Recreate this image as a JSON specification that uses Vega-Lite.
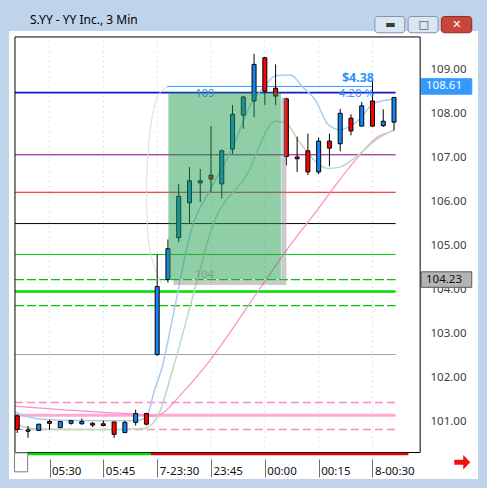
{
  "$schema": "https://vega.github.io/schema/vega-lite/v6.json",
  "width": 469,
  "height": 448,
  "autosize": {"type": "none"},
  "padding": {"left": 9, "top": 31, "right": 9, "bottom": 9},
  "background": "#bfd4eb",
  "title": {
    "text": "S.YY - YY Inc., 3 Min",
    "anchor": "start",
    "frame": "group",
    "dx": 21,
    "offset": -20.5,
    "baseline": "alphabetic",
    "font": "Noto Sans",
    "fontSize": 12,
    "fontWeight": "normal",
    "color": "#000000"
  },
  "config": {
    "view": {"fill": "#ffffff", "stroke": null},
    "text": {"font": "Noto Sans"}
  },
  "resolve": {"scale": {"color": "independent", "fill": "independent", "stroke": "independent"}},
  "datasets": {
    "candles": [
      {"i": 0, "t": "05:21", "open": 101.14, "high": 101.17, "low": 100.75, "close": 100.83},
      {"i": 1, "t": "05:24", "open": 100.79, "high": 100.91, "low": 100.64, "close": 100.82},
      {"i": 2, "t": "05:27", "open": 100.81, "high": 100.96, "low": 100.8, "close": 100.95},
      {"i": 3, "t": "05:30", "open": 101.01, "high": 101.05, "low": 100.82, "close": 100.97},
      {"i": 4, "t": "05:33", "open": 100.87, "high": 101.01, "low": 100.87, "close": 101.01},
      {"i": 5, "t": "05:36", "open": 100.97, "high": 101.03, "low": 100.94, "close": 101.03},
      {"i": 6, "t": "05:39", "open": 100.96, "high": 101.08, "low": 100.94, "close": 101.01},
      {"i": 7, "t": "05:42", "open": 100.97, "high": 101.0, "low": 100.88, "close": 100.93},
      {"i": 8, "t": "05:45", "open": 100.96, "high": 101.03, "low": 100.9, "close": 100.92},
      {"i": 9, "t": "05:48", "open": 101.0, "high": 101.0, "low": 100.64, "close": 100.72},
      {"i": 10, "t": "05:51", "open": 100.76, "high": 101.03, "low": 100.76, "close": 100.99},
      {"i": 11, "t": "05:54", "open": 100.99, "high": 101.28, "low": 100.92, "close": 101.19},
      {"i": 12, "t": "05:57", "open": 101.19, "high": 101.21, "low": 100.92, "close": 100.95},
      {"i": 13, "t": "23:30", "open": 102.53, "high": 104.8, "low": 102.5, "close": 104.07},
      {"i": 14, "t": "23:33", "open": 104.23, "high": 105.14, "low": 104.16, "close": 104.93},
      {"i": 15, "t": "23:36", "open": 105.18, "high": 106.4, "low": 105.08, "close": 106.12},
      {"i": 16, "t": "23:39", "open": 105.97, "high": 106.78, "low": 105.5, "close": 106.47},
      {"i": 17, "t": "23:42", "open": 106.42, "high": 106.74, "low": 105.99, "close": 106.47},
      {"i": 18, "t": "23:45", "open": 106.6, "high": 107.71, "low": 106.21, "close": 106.51},
      {"i": 19, "t": "23:48", "open": 106.4, "high": 107.18, "low": 106.07, "close": 107.15},
      {"i": 20, "t": "23:51", "open": 107.19, "high": 108.19, "low": 107.08, "close": 107.98},
      {"i": 21, "t": "23:54", "open": 107.96, "high": 108.4, "low": 107.65, "close": 108.37},
      {"i": 22, "t": "23:57", "open": 108.28, "high": 109.35, "low": 107.91, "close": 109.11},
      {"i": 23, "t": "00:00", "open": 109.26, "high": 109.28, "low": 108.19, "close": 108.5},
      {"i": 24, "t": "00:03", "open": 108.57, "high": 109.11, "low": 108.19, "close": 108.39},
      {"i": 25, "t": "00:06", "open": 108.33, "high": 108.35, "low": 106.82, "close": 107.02},
      {"i": 26, "t": "00:09", "open": 107.01, "high": 107.47, "low": 106.67, "close": 106.97},
      {"i": 27, "t": "00:12", "open": 107.15, "high": 107.54, "low": 106.6, "close": 106.67},
      {"i": 28, "t": "00:15", "open": 106.67, "high": 107.45, "low": 106.62, "close": 107.37},
      {"i": 29, "t": "00:18", "open": 107.37, "high": 107.54, "low": 106.8, "close": 107.21},
      {"i": 30, "t": "00:21", "open": 107.31, "high": 108.1, "low": 107.14, "close": 108.0},
      {"i": 31, "t": "00:24", "open": 107.89, "high": 107.98, "low": 107.5, "close": 107.6},
      {"i": 32, "t": "00:27", "open": 107.71, "high": 108.26, "low": 107.71, "close": 108.17},
      {"i": 33, "t": "00:30", "open": 108.28, "high": 108.8, "low": 107.7, "close": 107.71},
      {"i": 34, "t": "00:33", "open": 107.72, "high": 108.09, "low": 107.69, "close": 107.82},
      {"i": 35, "t": "00:36", "open": 107.8, "high": 108.36, "low": 107.61, "close": 108.36}
    ],
    "sessions": [
      {"i": 3, "t": "05:30"}, {"i": 8, "t": "05:45"}, {"i": 13, "t": "7-23:30"},
      {"i": 18, "t": "23:45"}, {"i": 23, "t": "00:00"}, {"i": 28, "t": "00:15"}, {"i": 33, "t": "8-00:30"}
    ],
    "levels": [
      {"name": "r3", "price": 108.47},
      {"name": "r2", "price": 107.06},
      {"name": "r1", "price": 106.21},
      {"name": "pivot", "price": 105.5},
      {"name": "s1", "price": 104.8},
      {"name": "entry", "price": 104.23},
      {"name": "s2", "price": 103.96},
      {"name": "s3", "price": 103.64},
      {"name": "s4", "price": 102.53},
      {"name": "b1", "price": 101.44},
      {"name": "b2", "price": 101.15},
      {"name": "b3", "price": 100.83}
    ],
    "averages": [
      {"series": "fast", "i": -0.2, "v": 101.22},
      {"series": "fast", "i": 1, "v": 101.12},
      {"series": "fast", "i": 2.3, "v": 101.06},
      {"series": "fast", "i": 4, "v": 101.04},
      {"series": "fast", "i": 8, "v": 101.03},
      {"series": "fast", "i": 10.9, "v": 101.03},
      {"series": "fast", "i": 12, "v": 101.1},
      {"series": "fast", "i": 12.7, "v": 101.68},
      {"series": "fast", "i": 13.5, "v": 102.28},
      {"series": "fast", "i": 14.5, "v": 103.44},
      {"series": "fast", "i": 16.15, "v": 105.34},
      {"series": "fast", "i": 18, "v": 106.3},
      {"series": "fast", "i": 19.95, "v": 107.19},
      {"series": "fast", "i": 21.6, "v": 108.16},
      {"series": "fast", "i": 23, "v": 108.62},
      {"series": "fast", "i": 24, "v": 108.85},
      {"series": "fast", "i": 25.4, "v": 108.87},
      {"series": "fast", "i": 26.5, "v": 108.6},
      {"series": "fast", "i": 27.7, "v": 108.3},
      {"series": "fast", "i": 28.9, "v": 107.74},
      {"series": "fast", "i": 29.95, "v": 107.63},
      {"series": "fast", "i": 31.6, "v": 107.82},
      {"series": "fast", "i": 33.1, "v": 108.22},
      {"series": "fast", "i": 35.1, "v": 108.33},
      {"series": "medium", "i": -0.2, "v": 100.95},
      {"series": "medium", "i": 1.8, "v": 100.84},
      {"series": "medium", "i": 4, "v": 100.83},
      {"series": "medium", "i": 8.4, "v": 100.83},
      {"series": "medium", "i": 11.7, "v": 100.85},
      {"series": "medium", "i": 13, "v": 101.1},
      {"series": "medium", "i": 14.5, "v": 102.24},
      {"series": "medium", "i": 16.45, "v": 103.97},
      {"series": "medium", "i": 18.1, "v": 105.41},
      {"series": "medium", "i": 21.3, "v": 106.6},
      {"series": "medium", "i": 24.0, "v": 107.82},
      {"series": "medium", "i": 24.95, "v": 107.78},
      {"series": "medium", "i": 26.15, "v": 107.37},
      {"series": "medium", "i": 28.9, "v": 106.75},
      {"series": "medium", "i": 29.95, "v": 106.78},
      {"series": "medium", "i": 31.6, "v": 107.04},
      {"series": "medium", "i": 33.4, "v": 107.41},
      {"series": "medium", "i": 34.95, "v": 107.62},
      {"series": "slow", "i": -0.2, "v": 101.36},
      {"series": "slow", "i": 4, "v": 101.28},
      {"series": "slow", "i": 8, "v": 101.22},
      {"series": "slow", "i": 11.6, "v": 101.16},
      {"series": "slow", "i": 12.6, "v": 101.13},
      {"series": "slow", "i": 13.5, "v": 101.2},
      {"series": "slow", "i": 15, "v": 101.57},
      {"series": "slow", "i": 17.4, "v": 102.24},
      {"series": "slow", "i": 22.5, "v": 104.01},
      {"series": "slow", "i": 25.2, "v": 104.96},
      {"series": "slow", "i": 27.97, "v": 105.84},
      {"series": "slow", "i": 29.95, "v": 106.49},
      {"series": "slow", "i": 31.9, "v": 107.08},
      {"series": "slow", "i": 33.4, "v": 107.45},
      {"series": "slow", "i": 34.95, "v": 107.6}
    ],
    "sketch": [
      {"k": 0, "i": 13.97, "v": 108.6},
      {"k": 1, "i": 13.06, "v": 108.4},
      {"k": 2, "i": 12.52, "v": 107.89},
      {"k": 3, "i": 12.15, "v": 107.12},
      {"k": 4, "i": 12.02, "v": 106.23},
      {"k": 5, "i": 12.15, "v": 105.23},
      {"k": 6, "i": 12.6, "v": 104.63},
      {"k": 7, "i": 13.43, "v": 104.12}
    ],
    "zone": [
      {"start": 14.04, "end": 24.49, "low": 104.23, "high": 108.47, "top": "109", "bottom": "104"}
    ],
    "measure": [
      {"start": 13.9, "end": 33.05, "from": 104.23, "to": 108.61, "change": "$4.38", "pct": "4.20 %"}
    ],
    "quotes": [
      {"kind": "last", "price": 108.61},
      {"kind": "entry", "price": 104.23}
    ],
    "tape": [
      {"state": "pre", "start": 0.97, "end": 12.43},
      {"state": "live", "start": 12.43, "end": 36.34}
    ],
    "window": [
      {"button": "minimize", "left": 33.22, "right": 36.0, "glyph": "▬"},
      {"button": "maximize", "left": 36.31, "right": 39.09, "glyph": "□"},
      {"button": "close", "left": 39.4, "right": 42.22, "glyph": "✕"}
    ]
  },
  "layer": [
    {
      "data": {"name": "sessions"},
      "mark": {"type": "rule", "color": "#c6c6c6", "strokeWidth": 1, "strokeDash": [1, 4]},
      "encoding": {
        "x": {"field": "i", "type": "quantitative", "scale": {"domain": [-0.3, 42.336], "nice": false, "zero": false}},
        "y": {"datum": 100.31, "type": "quantitative", "scale": {"domain": [99.8204, 109.7539], "nice": false, "zero": false}},
        "y2": {"datum": 109.73}
      }
    },
    {
      "data": {"name": "levels"},
      "transform": [{"filter": {"field": "name", "oneOf": ["r2", "r1", "pivot", "s1", "s4"]}}],
      "mark": {"type": "rule", "strokeWidth": 1},
      "encoding": {
        "y": {"field": "price", "type": "quantitative", "scale": {"domain": [99.8204, 109.7539], "nice": false, "zero": false}},
        "x": {"datum": -0.21, "type": "quantitative", "scale": {"domain": [-0.3, 42.336], "nice": false, "zero": false}},
        "x2": {"datum": 35.15},
        "color": {"field": "name", "type": "nominal", "legend": null,
          "scale": {"domain": ["r2", "r1", "pivot", "s1", "s4"],
                    "range": ["#800080", "#e01010", "#000000", "#00cc00", "#a0a0a0"]}}
      }
    },
    {
      "data": {"name": "levels"},
      "transform": [{"filter": {"field": "name", "oneOf": ["r3"]}}],
      "mark": {"type": "rule", "strokeWidth": 1.6, "color": "#1818c8"},
      "encoding": {
        "y": {"field": "price", "type": "quantitative", "scale": {"domain": [99.8204, 109.7539], "nice": false, "zero": false}},
        "x": {"datum": -0.21, "type": "quantitative", "scale": {"domain": [-0.3, 42.336], "nice": false, "zero": false}},
        "x2": {"datum": 35.15}
      }
    },
    {
      "data": {"name": "levels"},
      "transform": [{"filter": {"field": "name", "oneOf": ["s2"]}}],
      "mark": {"type": "rule", "strokeWidth": 2.5, "color": "#00dd00"},
      "encoding": {
        "y": {"field": "price", "type": "quantitative", "scale": {"domain": [99.8204, 109.7539], "nice": false, "zero": false}},
        "x": {"datum": -0.21, "type": "quantitative", "scale": {"domain": [-0.3, 42.336], "nice": false, "zero": false}},
        "x2": {"datum": 35.15}
      }
    },
    {
      "data": {"name": "levels"},
      "transform": [{"filter": {"field": "name", "oneOf": ["b2"]}}],
      "mark": {"type": "rule", "strokeWidth": 3, "color": "#ffa8d2"},
      "encoding": {
        "y": {"field": "price", "type": "quantitative", "scale": {"domain": [99.8204, 109.7539], "nice": false, "zero": false}},
        "x": {"datum": -0.21, "type": "quantitative", "scale": {"domain": [-0.3, 42.336], "nice": false, "zero": false}},
        "x2": {"datum": 35.15}
      }
    },
    {
      "data": {"name": "levels"},
      "transform": [{"filter": {"field": "name", "oneOf": ["entry", "s3"]}}],
      "mark": {"type": "rule", "strokeWidth": 1.3, "strokeDash": [9, 3], "color": "#00c800"},
      "encoding": {
        "y": {"field": "price", "type": "quantitative", "scale": {"domain": [99.8204, 109.7539], "nice": false, "zero": false}},
        "x": {"datum": -0.21, "type": "quantitative", "scale": {"domain": [-0.3, 42.336], "nice": false, "zero": false}},
        "x2": {"datum": 35.15}
      }
    },
    {
      "data": {"name": "levels"},
      "transform": [{"filter": {"field": "name", "oneOf": ["b1", "b3"]}}],
      "mark": {"type": "rule", "strokeWidth": 1.5, "strokeDash": [8, 4], "color": "#ff8cc0"},
      "encoding": {
        "y": {"field": "price", "type": "quantitative", "scale": {"domain": [99.8204, 109.7539], "nice": false, "zero": false}},
        "x": {"datum": -0.21, "type": "quantitative", "scale": {"domain": [-0.3, 42.336], "nice": false, "zero": false}},
        "x2": {"datum": 35.15}
      }
    },
    {
      "data": {"name": "measure"},
      "mark": {"type": "rule", "color": "#2f9dff", "strokeWidth": 1},
      "encoding": {
        "y": {"field": "to", "type": "quantitative", "scale": {"domain": [99.8204, 109.7539], "nice": false, "zero": false}},
        "x": {"field": "start", "type": "quantitative", "scale": {"domain": [-0.3, 42.336], "nice": false, "zero": false}},
        "x2": {"field": "end"}
      }
    },
    {
      "data": {"name": "averages"},
      "transform": [{"filter": "datum.series === 'slow'"}],
      "mark": {"type": "line", "color": "#ff8cc8", "strokeWidth": 1.2, "interpolate": "monotone"},
      "encoding": {
        "x": {"field": "i", "type": "quantitative", "scale": {"domain": [-0.3, 42.336], "nice": false, "zero": false}},
        "y": {"field": "v", "type": "quantitative", "scale": {"domain": [99.8204, 109.7539], "nice": false, "zero": false}}
      }
    },
    {
      "data": {"name": "averages"},
      "transform": [{"filter": "datum.series === 'medium'"}],
      "mark": {"type": "line", "color": "#b9dcb9", "strokeWidth": 1.5, "interpolate": "monotone"},
      "encoding": {
        "x": {"field": "i", "type": "quantitative", "scale": {"domain": [-0.3, 42.336], "nice": false, "zero": false}},
        "y": {"field": "v", "type": "quantitative", "scale": {"domain": [99.8204, 109.7539], "nice": false, "zero": false}}
      }
    },
    {
      "data": {"name": "averages"},
      "transform": [{"filter": "datum.series === 'fast'"}],
      "mark": {"type": "line", "color": "#a8cbef", "strokeWidth": 1.5, "interpolate": "monotone"},
      "encoding": {
        "x": {"field": "i", "type": "quantitative", "scale": {"domain": [-0.3, 42.336], "nice": false, "zero": false}},
        "y": {"field": "v", "type": "quantitative", "scale": {"domain": [99.8204, 109.7539], "nice": false, "zero": false}}
      }
    },
    {
      "data": {"name": "sketch"},
      "mark": {"type": "line", "color": "#dcdcdc", "strokeWidth": 1, "interpolate": "cardinal"},
      "encoding": {
        "x": {"field": "i", "type": "quantitative", "scale": {"domain": [-0.3, 42.336], "nice": false, "zero": false}},
        "y": {"field": "v", "type": "quantitative", "scale": {"domain": [99.8204, 109.7539], "nice": false, "zero": false}},
        "order": {"field": "k", "type": "quantitative"}
      }
    },
    {
      "data": {"name": "candles"},
      "mark": {"type": "rule", "color": "#000000", "strokeWidth": 1},
      "encoding": {
        "x": {
          "field": "i", "type": "quantitative",
          "scale": {"domain": [-0.3, 42.336], "nice": false, "zero": false},
          "axis": {
            "orient": "bottom", "offset": -20, "title": null, "grid": false, "domain": false,
            "values": [3, 8, 13, 18, 23, 28, 33],
            "labelExpr": "['05:30','05:45','7-23:30','23:45','00:00','00:15','8-00:30'][(datum.value - 3) / 5]",
            "ticks": true, "tickSize": 18, "tickColor": "#707070", "tickWidth": 1,
            "labelAlign": "left", "labelBaseline": "top", "labelPadding": -12, "labelOffset": 2,
            "labelFont": "Noto Sans", "labelFontSize": 11.5, "labelColor": "#111111",
            "labelFlush": false, "labelOverlap": false
          }
        },
        "y": {
          "field": "low", "type": "quantitative",
          "scale": {"domain": [99.8204, 109.7539], "nice": false, "zero": false},
          "axis": {
            "orient": "right", "offset": -54, "title": null, "grid": false, "domain": false,
            "values": [101, 102, 103, 104, 105, 106, 107, 108, 109], "format": ".2f",
            "ticks": false, "tickSize": 0, "labelPadding": 6,
            "labelFont": "Noto Sans", "labelFontSize": 11.5, "labelColor": "#404040",
            "labelFlush": false, "labelOverlap": false
          }
        },
        "y2": {"field": "high"}
      }
    },
    {
      "data": {"name": "candles"},
      "mark": {"type": "bar", "size": 4, "stroke": "#000000", "strokeWidth": 1},
      "encoding": {
        "x": {"field": "i", "type": "quantitative", "scale": {"domain": [-0.3, 42.336], "nice": false, "zero": false}},
        "y": {"field": "open", "type": "quantitative", "scale": {"domain": [99.8204, 109.7539], "nice": false, "zero": false}},
        "y2": {"field": "close"},
        "color": {"condition": {"test": "datum.close >= datum.open", "value": "#1784f5"}, "value": "#ff0000"}
      }
    },
    {
      "data": {"name": "zone"},
      "mark": {"type": "rule", "color": "#8a8a8a", "opacity": 0.45, "strokeWidth": 5, "xOffset": 3, "y2Offset": 5},
      "encoding": {
        "x": {"field": "end", "type": "quantitative", "scale": {"domain": [-0.3, 42.336], "nice": false, "zero": false}},
        "y": {"field": "low", "type": "quantitative", "scale": {"domain": [99.8204, 109.7539], "nice": false, "zero": false}},
        "y2": {"field": "high"}
      }
    },
    {
      "data": {"name": "zone"},
      "mark": {"type": "rule", "color": "#8a8a8a", "opacity": 0.45, "strokeWidth": 5, "xOffset": 5, "x2Offset": 5.5, "yOffset": 3},
      "encoding": {
        "y": {"field": "low", "type": "quantitative", "scale": {"domain": [99.8204, 109.7539], "nice": false, "zero": false}},
        "x": {"field": "start", "type": "quantitative", "scale": {"domain": [-0.3, 42.336], "nice": false, "zero": false}},
        "x2": {"field": "end"}
      }
    },
    {
      "data": {"name": "zone"},
      "mark": {"type": "rect", "fill": "#1f9e50", "fillOpacity": 0.5},
      "encoding": {
        "x": {"field": "start", "type": "quantitative", "scale": {"domain": [-0.3, 42.336], "nice": false, "zero": false}},
        "x2": {"field": "end"},
        "y": {"field": "low", "type": "quantitative", "scale": {"domain": [99.8204, 109.7539], "nice": false, "zero": false}},
        "y2": {"field": "high"}
      }
    },
    {
      "data": {"name": "zone"},
      "mark": {"type": "text", "align": "left", "baseline": "middle", "dx": 27, "dy": 1, "fontSize": 11, "color": "#3a86c8"},
      "encoding": {
        "x": {"field": "start", "type": "quantitative", "scale": {"domain": [-0.3, 42.336], "nice": false, "zero": false}},
        "y": {"field": "high", "type": "quantitative", "scale": {"domain": [99.8204, 109.7539], "nice": false, "zero": false}},
        "text": {"field": "top"}
      }
    },
    {
      "data": {"name": "zone"},
      "mark": {"type": "text", "align": "left", "baseline": "middle", "dx": 26.5, "dy": -5, "fontSize": 11, "color": "#8a9c90"},
      "encoding": {
        "x": {"field": "start", "type": "quantitative", "scale": {"domain": [-0.3, 42.336], "nice": false, "zero": false}},
        "y": {"field": "low", "type": "quantitative", "scale": {"domain": [99.8204, 109.7539], "nice": false, "zero": false}},
        "text": {"field": "bottom"}
      }
    },
    {
      "data": {"name": "measure"},
      "mark": {"type": "text", "align": "right", "baseline": "alphabetic", "dx": 1, "dy": -4, "fontSize": 12.5, "fontWeight": "bold", "color": "#2f95f5"},
      "encoding": {
        "x": {"field": "end", "type": "quantitative", "scale": {"domain": [-0.3, 42.336], "nice": false, "zero": false}},
        "y": {"field": "to", "type": "quantitative", "scale": {"domain": [99.8204, 109.7539], "nice": false, "zero": false}},
        "text": {"field": "change"}
      }
    },
    {
      "data": {"name": "measure"},
      "mark": {"type": "text", "align": "right", "baseline": "alphabetic", "dx": 1, "dy": 10.5, "fontSize": 11.5, "color": "#3399ff"},
      "encoding": {
        "x": {"field": "end", "type": "quantitative", "scale": {"domain": [-0.3, 42.336], "nice": false, "zero": false}},
        "y": {"field": "to", "type": "quantitative", "scale": {"domain": [99.8204, 109.7539], "nice": false, "zero": false}},
        "text": {"field": "pct"}
      }
    },
    {
      "data": {"name": "quotes"},
      "mark": {"type": "bar", "orient": "horizontal", "size": 15.5, "strokeWidth": 1},
      "encoding": {
        "y": {"field": "price", "type": "quantitative", "scale": {"domain": [99.8204, 109.7539], "nice": false, "zero": false}},
        "x": {"datum": 37.52, "type": "quantitative", "scale": {"domain": [-0.3, 42.336], "nice": false, "zero": false}},
        "x2": {"datum": 42.22},
        "fill": {"field": "kind", "type": "nominal", "legend": null,
          "scale": {"domain": ["last", "entry"], "range": ["#3399ff", "#b4b4b4"]}},
        "stroke": {"field": "kind", "type": "nominal", "legend": null,
          "scale": {"domain": ["last", "entry"], "range": ["#3399ff", "#5a5a5a"]}}
      }
    },
    {
      "data": {"name": "quotes"},
      "transform": [{"filter": "datum.kind === 'last'"}],
      "mark": {"type": "text", "align": "left", "baseline": "middle", "fontSize": 11.5, "color": "#ffffff"},
      "encoding": {
        "y": {"field": "price", "type": "quantitative", "scale": {"domain": [99.8204, 109.7539], "nice": false, "zero": false}},
        "x": {"datum": 37.97, "type": "quantitative", "scale": {"domain": [-0.3, 42.336], "nice": false, "zero": false}},
        "text": {"field": "price", "type": "quantitative", "format": ".2f"}
      }
    },
    {
      "data": {"name": "quotes"},
      "transform": [{"filter": "datum.kind === 'entry'"}],
      "mark": {"type": "text", "align": "left", "baseline": "middle", "fontSize": 11.5, "color": "#111111"},
      "encoding": {
        "y": {"field": "price", "type": "quantitative", "scale": {"domain": [99.8204, 109.7539], "nice": false, "zero": false}},
        "x": {"datum": 37.97, "type": "quantitative", "scale": {"domain": [-0.3, 42.336], "nice": false, "zero": false}},
        "text": {"field": "price", "type": "quantitative", "format": ".2f"}
      }
    },
    {
      "data": {"values": [{}]},
      "mark": {"type": "rect", "fillOpacity": 0, "stroke": "#000000", "strokeWidth": 1},
      "encoding": {
        "x": {"datum": -0.209, "type": "quantitative", "scale": {"domain": [-0.3, 42.336], "nice": false, "zero": false}},
        "x2": {"datum": 37.427},
        "y": {"datum": 100.308, "type": "quantitative", "scale": {"domain": [99.8204, 109.7539], "nice": false, "zero": false}},
        "y2": {"datum": 109.732}
      }
    },
    {
      "data": {"name": "tape"},
      "mark": {"type": "rect"},
      "encoding": {
        "x": {"field": "start", "type": "quantitative", "scale": {"domain": [-0.3, 42.336], "nice": false, "zero": false}},
        "x2": {"field": "end"},
        "y": {"datum": 100.3, "type": "quantitative", "scale": {"domain": [99.8204, 109.7539], "nice": false, "zero": false}},
        "y2": {"datum": 100.243},
        "fill": {"field": "state", "type": "nominal", "legend": null,
          "scale": {"domain": ["pre", "live"], "range": ["#00dd00", "#e60000"]}}
      }
    },
    {
      "data": {"values": [{}]},
      "mark": {"type": "rect", "fill": "#ffffff", "stroke": "#7a7a7a", "strokeWidth": 1},
      "encoding": {
        "x": {"datum": -0.25, "type": "quantitative", "scale": {"domain": [-0.3, 42.336], "nice": false, "zero": false}},
        "x2": {"datum": 0.97},
        "y": {"datum": 100.3, "type": "quantitative", "scale": {"domain": [99.8204, 109.7539], "nice": false, "zero": false}},
        "y2": {"datum": 99.87}
      }
    },
    {
      "data": {"values": [{}]},
      "mark": {"type": "point", "shape": "M-1,-0.32L0.12,-0.32L0.12,-0.9L1,0L0.12,0.9L0.12,0.32L-1,0.32Z", "size": 256, "filled": true, "color": "#ee1111", "opacity": 1},
      "encoding": {
        "x": {"datum": 41.34, "type": "quantitative", "scale": {"domain": [-0.3, 42.336], "nice": false, "zero": false}},
        "y": {"datum": 100.087, "type": "quantitative", "scale": {"domain": [99.8204, 109.7539], "nice": false, "zero": false}}
      }
    },
    {
      "data": {"name": "window"},
      "mark": {"type": "rect", "cornerRadius": 3, "strokeWidth": 1},
      "encoding": {
        "x": {"field": "left", "type": "quantitative", "scale": {"domain": [-0.3, 42.336], "nice": false, "zero": false}},
        "x2": {"field": "right"},
        "y": {"datum": 109.827, "type": "quantitative", "scale": {"domain": [99.8204, 109.7539], "nice": false, "zero": false}},
        "y2": {"datum": 110.197},
        "fill": {"field": "button", "type": "nominal", "legend": null,
          "scale": {"domain": ["minimize", "maximize", "close"], "range": ["#dbe6f3", "#dbe6f3", "#c8453a"]}},
        "stroke": {"field": "button", "type": "nominal", "legend": null,
          "scale": {"domain": ["minimize", "maximize", "close"], "range": ["#7d93b0", "#7d93b0", "#8e2b22"]}}
      }
    },
    {
      "data": {"name": "window"},
      "mark": {"type": "text", "align": "center", "baseline": "middle", "dx": 15.5, "fontSize": 11, "fontWeight": "bold", "font": "DejaVu Sans"},
      "encoding": {
        "x": {"field": "left", "type": "quantitative", "scale": {"domain": [-0.3, 42.336], "nice": false, "zero": false}},
        "y": {"datum": 110.012, "type": "quantitative", "scale": {"domain": [99.8204, 109.7539], "nice": false, "zero": false}},
        "text": {"field": "glyph"},
        "fill": {"field": "button", "type": "nominal", "legend": null,
          "scale": {"domain": ["minimize", "maximize", "close"], "range": ["#3a3a3a", "#3a3a3a", "#ffffff"]}}
      }
    }
  ]
}
